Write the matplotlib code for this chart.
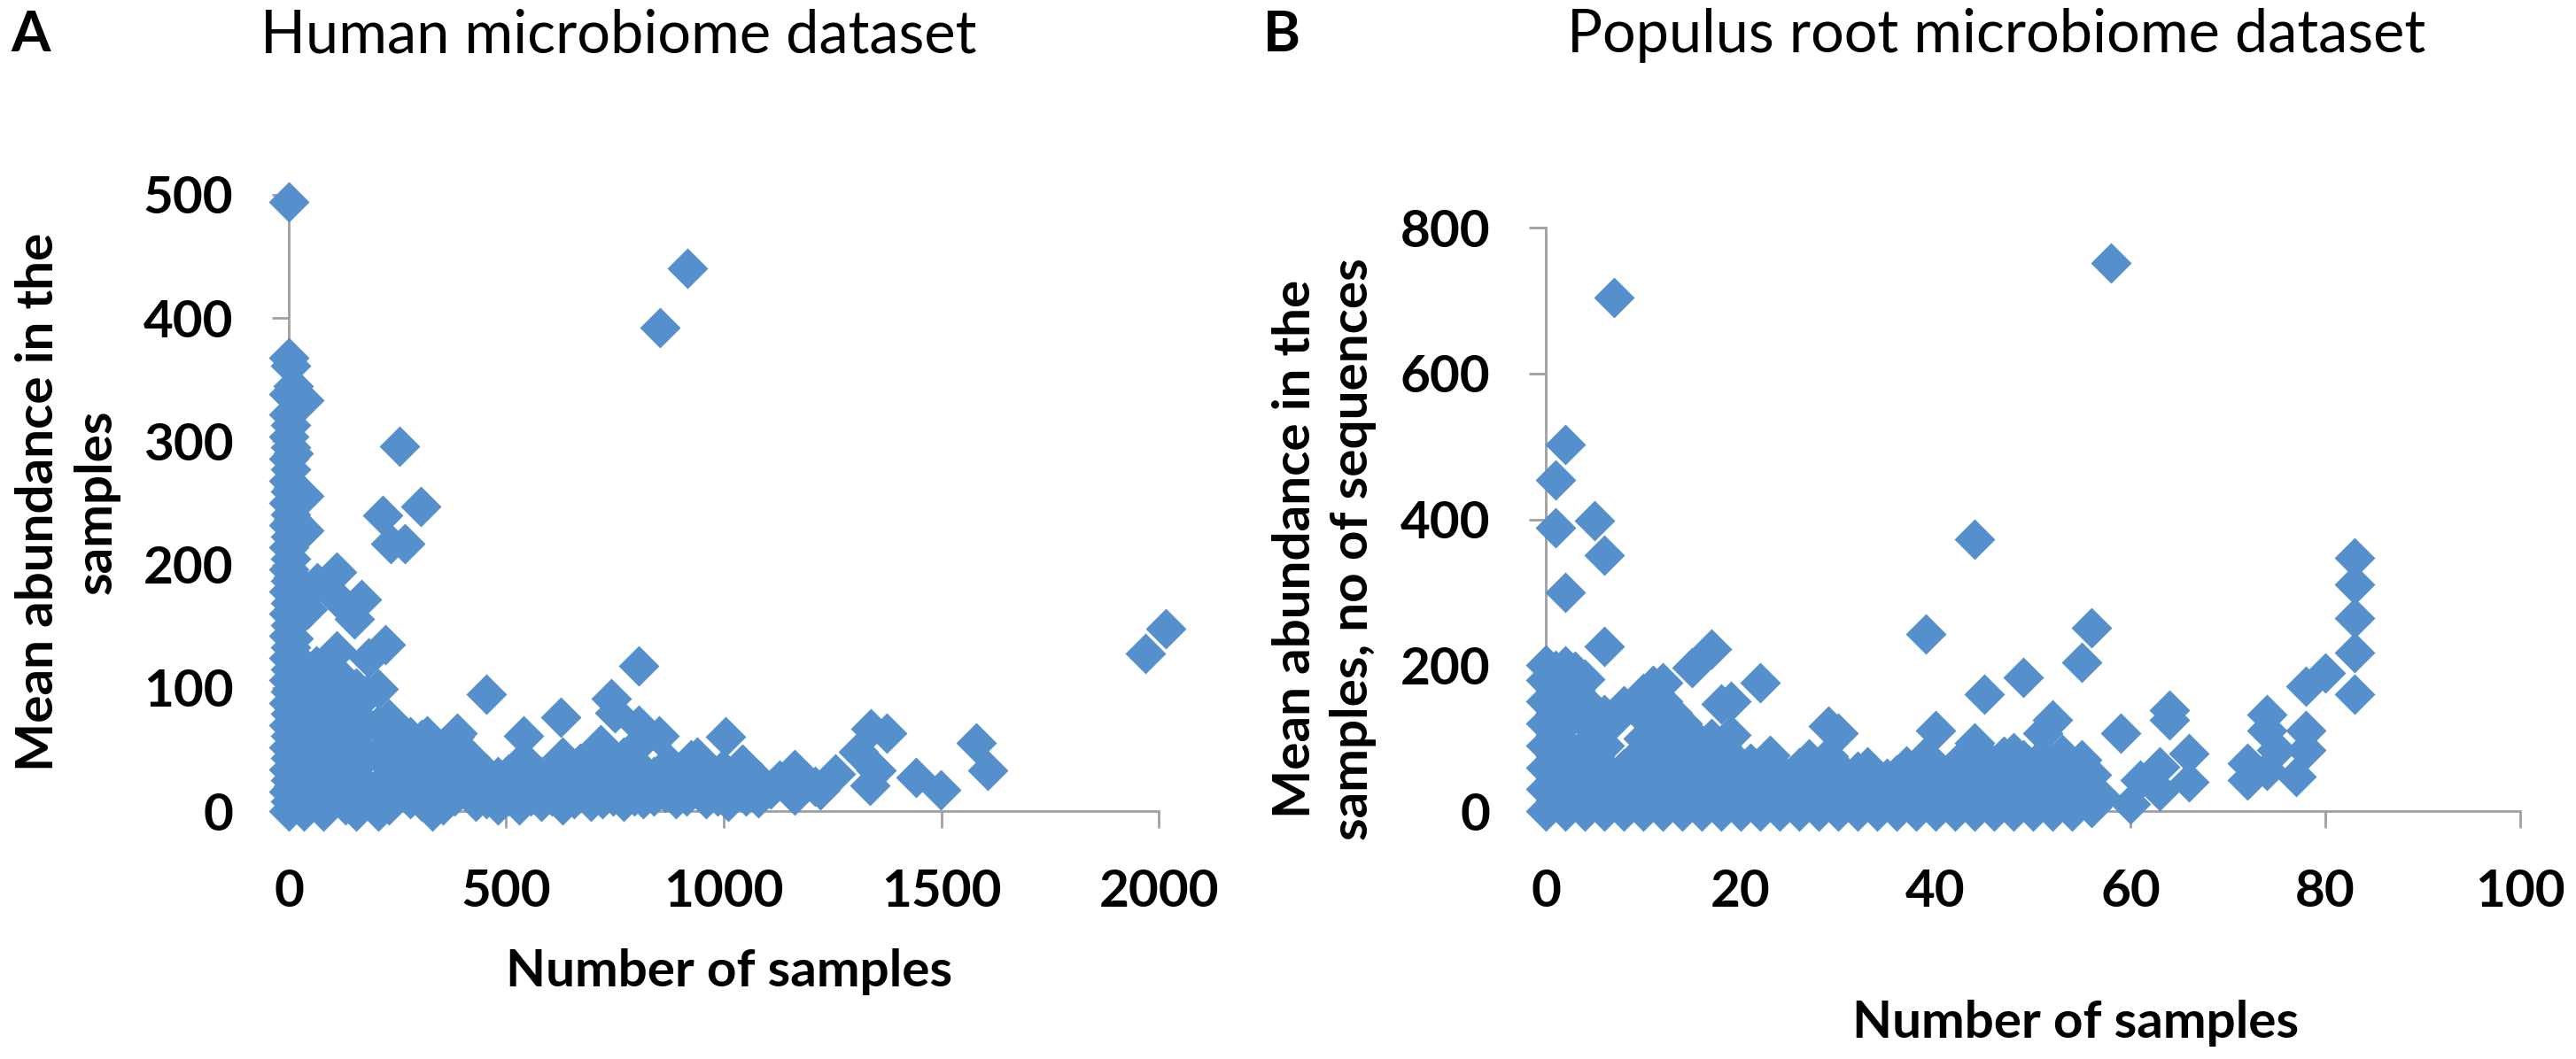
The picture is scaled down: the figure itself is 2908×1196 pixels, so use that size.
import matplotlib
matplotlib.use('Agg')
import matplotlib.pyplot as plt

plt.rcParams['font.family'] = ['Lato', 'DejaVu Sans']

# panel A - human microbiome: number of samples vs mean abundance
human_x = [
    0, 0, 0, 0, 0, 0, 0, 0, 0, 0, 0, 0, 0, 0, 0, 0, 0, 0, 0, 0, 0, 0,
    4, 4, 4, 4, 4, 4, 4, 4, 4, 4, 4, 4, 4, 4, 4, 4, 4, 4, 4,
    10, 10, 10, 10, 10, 10, 10, 10, 10,
    34, 34, 34, 34, 34, 34, 34, 34, 34,
    43, 63, 65, 110, 110, 117, 151, 168, 183, 223, 215, 235, 266, 254, 303,
    55, 55, 55, 55, 55, 80, 80, 80, 80, 80, 105, 105, 105, 105, 105, 130, 130, 130, 130, 130,
    155, 155, 155, 155, 155, 180, 180, 180, 180, 205, 205, 205, 205, 205, 230, 230, 230, 230,
    255, 255, 255, 280, 280, 280, 305, 305, 305, 317, 330, 330, 330, 355, 355, 355, 380, 380, 380, 386,
    405, 405, 415, 430, 430, 455, 455, 455, 480, 480, 505, 505, 530, 530, 539, 539, 555, 555, 580, 580,
    605, 605, 625, 630, 630, 630, 655, 655, 670, 670, 695, 695, 706, 717, 720, 720, 741, 745, 745, 749, 757,
    770, 770, 770, 795, 795, 804, 804, 808, 814, 814, 840, 840, 851, 853, 865, 865, 873, 890, 890, 916,
    915, 915, 924, 938, 938, 960, 960, 985, 985, 997, 1004, 1010, 1010, 1019, 1042, 1050, 1050, 1080, 1080,
    1107, 1128, 1163, 1163, 1182, 1209, 1223, 1257, 1310, 1337, 1338, 1350, 1375, 1442, 1498, 1581, 1606, 1969, 2017,
]
human_y = [
    494, 368, 338, 322, 304, 286, 268, 250, 232, 214, 196, 178, 160, 142, 124, 106, 88, 70, 52, 34, 16, 0,
    361, 313, 295, 277, 259, 241, 223, 205, 187, 169, 151, 133, 115, 97, 79, 61, 43, 25, 8,
    345, 290, 262, 236, 190, 140, 100, 60, 20,
    333, 256, 228, 118, 95, 70, 45, 20, 0,
    164, 118, 185, 194, 130, 171, 156, 172, 124, 135, 240, 217, 217, 296, 247,
    108, 85, 60, 35, 10, 100, 75, 50, 25, 0, 110, 85, 60, 35, 10, 105, 80, 55, 30, 5,
    100, 75, 50, 25, 0, 95, 70, 45, 20, 99, 70, 45, 20, 0, 75, 50, 25, 5,
    65, 40, 15, 60, 35, 10, 58, 33, 8, 61, 45, 20, 0, 52, 28, 5, 60, 35, 12, 63,
    40, 18, 44, 32, 8, 95, 30, 10, 28, 5, 30, 12, 25, 5, 61, 42, 34, 12, 28, 8,
    30, 12, 76, 44, 20, 5, 30, 10, 39, 15, 30, 8, 47, 54, 25, 10, 91, 33, 12, 80, 39,
    44, 25, 8, 30, 12, 118, 70, 56, 32, 10, 28, 12, 61, 392, 35, 15, 39, 30, 10, 440,
    25, 12, 42, 44, 20, 30, 10, 25, 12, 34, 60, 22, 8, 22, 38, 28, 12, 25, 11,
    18, 25, 34, 13, 20, 20, 17, 30, 48, 21, 67, 33, 63, 27, 17, 55, 33, 128, 148,
]

# panel B - populus root microbiome
populus_x = [
    0, 0, 0, 0, 0, 0, 0, 0,
    1, 1, 1, 1, 1, 1, 1, 1, 1,
    2, 2, 2, 2, 2, 2, 2, 2, 2, 2,
    3, 3, 3, 3, 3, 3,
    4, 4, 4, 4, 4, 4,
    5, 5, 5, 5, 5,
    6, 6, 6, 6, 6, 6, 6,
    7, 7, 7, 7,
    8, 8, 8, 8, 9, 9, 9,
    10, 10, 10, 10, 10, 10, 11, 11, 11, 11, 11, 11,
    12, 12, 12, 12, 12, 12, 12, 13, 13, 13, 13, 13,
    14, 14, 14, 14, 14, 15, 15, 15, 15, 15,
    16, 16, 16, 16, 17, 17, 17, 17, 17,
    18, 18, 18, 18, 18, 19, 19, 19, 19, 19,
    20, 20, 20, 21, 21, 21, 22, 22, 22, 22, 23, 23, 23,
    24, 24, 24, 25, 25, 26, 26, 26, 27, 27, 27,
    28, 28, 28, 29, 29, 29, 29, 30, 30, 30, 30, 31, 31,
    32, 32, 32, 33, 33, 33, 34, 34, 35, 35,
    36, 36, 36, 37, 37, 37, 38, 38, 38, 39, 39, 39, 39,
    40, 40, 40, 40, 41, 41, 42, 42, 42, 43, 43, 43,
    44, 44, 44, 44, 44, 45, 45, 45, 45, 46, 46, 46,
    47, 47, 47, 48, 48, 48, 48, 49, 49, 49, 49,
    50, 50, 50, 51, 51, 51, 51, 52, 52, 52, 52,
    53, 53, 53, 54, 54, 54, 55, 55, 55, 55, 56, 56, 56, 56,
    57, 58, 59, 60, 61, 63, 63, 64, 64, 66, 66,
    72, 72, 74, 74, 74, 75, 77, 78, 78, 78, 80,
    83, 83, 83, 83, 83,
]
populus_y = [
    0, 30, 60, 90, 120, 150, 180, 200,
    15, 45, 75, 105, 135, 165, 193, 389, 454,
    0, 30, 60, 90, 120, 150, 180, 199, 300, 503,
    15, 45, 75, 135, 165, 192,
    0, 30, 60, 90, 151, 181,
    15, 45, 75, 110, 398,
    0, 30, 60, 90, 132, 226, 351,
    15, 45, 125, 704,
    0, 30, 58, 145, 15, 45, 70,
    0, 30, 60, 100, 130, 161, 15, 45, 80, 110, 140, 173,
    0, 30, 60, 90, 120, 150, 176, 15, 45, 75, 105, 135,
    0, 30, 60, 90, 120, 15, 45, 75, 105, 197,
    0, 30, 60, 90, 15, 45, 75, 100, 222,
    0, 30, 60, 90, 147, 15, 45, 75, 105, 150,
    0, 30, 60, 15, 45, 65, 0, 30, 60, 176, 15, 45, 77,
    0, 30, 55, 15, 45, 0, 30, 60, 15, 45, 72,
    0, 30, 60, 15, 45, 75, 116, 0, 30, 60, 107, 15, 45,
    0, 30, 55, 15, 45, 61, 0, 30, 15, 45,
    0, 30, 50, 15, 45, 62, 0, 30, 60, 15, 45, 75, 243,
    0, 30, 60, 111, 15, 45, 0, 30, 62, 15, 45, 75,
    0, 30, 60, 93, 373, 15, 45, 75, 160, 0, 30, 60,
    15, 45, 75, 0, 30, 60, 80, 15, 45, 70, 183,
    0, 30, 60, 15, 45, 75, 107, 0, 30, 60, 125,
    15, 45, 78, 0, 30, 60, 15, 45, 70, 204, 5, 30, 50, 251,
    20, 752, 107, 10, 42, 28, 61, 125, 139, 40, 79,
    42, 65, 56, 111, 132, 84, 47, 84, 111, 171, 190,
    160, 217, 265, 311, 347,
]

blue = '#5690CC'
grey = '#A0A0A0'

fig = plt.figure(figsize=(29.08, 11.96), dpi=100)
ax1 = fig.add_axes([0.1121, 0.2341, 0.3377, 0.5820])
ax2 = fig.add_axes([0.6001, 0.2341, 0.3782, 0.5510])

ax1.set_xlim(0, 2000)
ax1.set_ylim(0, 500)
ax1.set_xticks([0, 500, 1000, 1500, 2000])
ax1.set_yticks([0, 100, 200, 300, 400, 500])

ax2.set_xlim(0, 100)
ax2.set_ylim(0, 800)
ax2.set_xticks([0, 20, 40, 60, 80, 100])
ax2.set_yticks([0, 200, 400, 600, 800])

for ax, xs, ys in ((ax1, human_x, human_y), (ax2, populus_x, populus_y)):
    ax.plot(xs, ys, linestyle='none', marker='D', ms=23.5, color=blue,
            mec='none', clip_on=False, zorder=3)
    ax.spines['top'].set_visible(False)
    ax.spines['right'].set_visible(False)
    for s in ('left', 'bottom'):
        ax.spines[s].set_color(grey)
        ax.spines[s].set_linewidth(2)
    ax.tick_params(axis='both', direction='out', length=14, width=2,
                   color=grey, labelsize=42)
    ax.tick_params(axis='x', pad=33)
    ax.tick_params(axis='y', pad=31)
    for lab in ax.get_xticklabels() + ax.get_yticklabels():
        lab.set_fontweight('bold')

W, H = 2908.0, 1196.0

fig.text(35 / W, 1 - 40 / H, 'A', fontsize=46, fontweight='bold', ha='center', va='center')
fig.text(1447 / W, 1 - 40 / H, 'B', fontsize=46, fontweight='bold', ha='center', va='center')
fig.text(698 / W, 1 - 40 / H, 'Human microbiome dataset', fontsize=48, ha='center', va='center')
fig.text(2254 / W, 1 - 40 / H, 'Populus root microbiome dataset', fontsize=48, ha='center', va='center')

fig.text(823 / W, 1 - 1098 / H, 'Number of samples', fontsize=42, fontweight='bold',
         ha='center', va='center')
fig.text(2343 / W, 1 - 1155 / H, 'Number of samples', fontsize=42, fontweight='bold',
         ha='center', va='center')

fig.text(76 / W, 1 - 567 / H, 'Mean abundance in the\nsamples', rotation=90, fontsize=42,
         fontweight='bold', ha='center', va='center', multialignment='center', linespacing=1.3)
fig.text(1495 / W, 1 - 620 / H, 'Mean abundance in the\nsamples, no of sequences', rotation=90,
         fontsize=42, fontweight='bold', ha='center', va='center', multialignment='center',
         linespacing=1.3)

fig.savefig('out.png', dpi=100)
